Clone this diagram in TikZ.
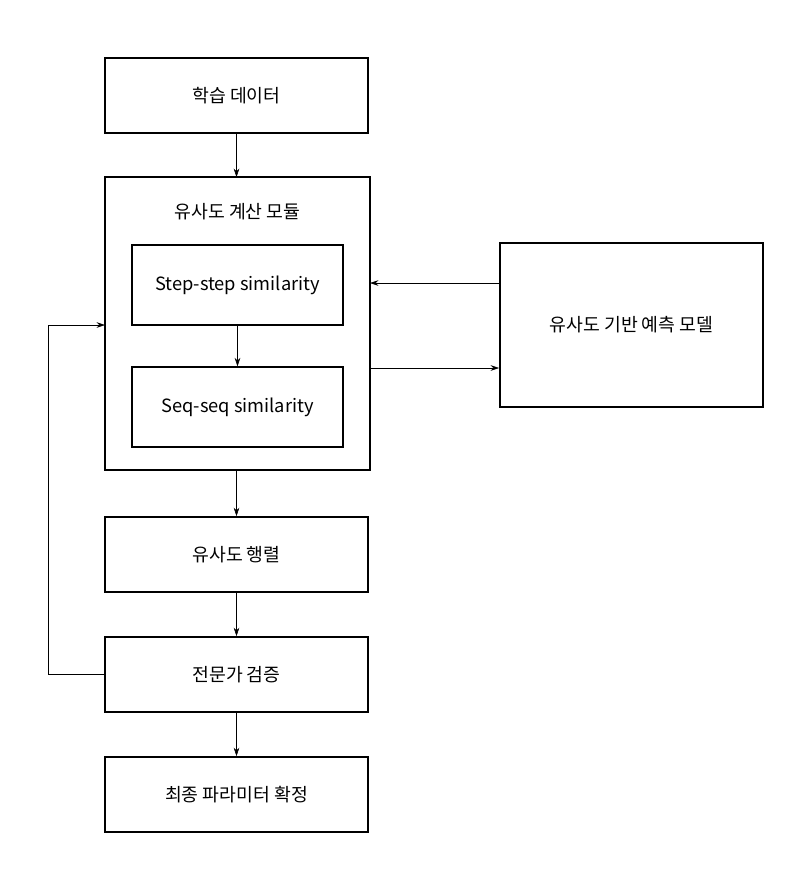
\documentclass[tikz,border=0pt]{standalone}
\usepackage{fontspec}
\setmainfont{Noto Sans CJK KR}
\usetikzlibrary{arrows.meta,positioning}
\tikzset{box/.style={draw,line width=1.2pt,minimum width=6.575cm,minimum height=1.875cm,font=\fontsize{13}{15}\selectfont},
  inbox/.style={draw,line width=1pt,minimum width=5.275cm,minimum height=2cm,font=\fontsize{13}{15}\selectfont},
  conn/.style={-{Stealth[length=6pt,width=4pt]},line width=0.4pt}}
\begin{document}
\begin{tikzpicture}[x=0.025cm,y=-0.025cm]
\useasboundingbox (0,0) rectangle (802,890);

\node[box] (data) at (236.5,95.5) {학습 데이터};
\draw[line width=1.2pt] (105,177) rectangle (370,470);
\coordinate (modtop) at (236.5,177);
\coordinate (modbot) at (236.5,470);
\node[font=\fontsize{13}{15}\selectfont] (modlabel) at (237.5,212) {유사도 계산 모듈};
\node[inbox] (step) at (237.5,285) {Step-step similarity};
\node[inbox] (seq) at (237.5,407) {Seq-seq similarity};
\node[box,minimum height=4.1cm] (pred) at (631.5,325) {유사도 기반 예측 모델};
\node[box] (mat) at (236.5,554.5) {유사도 행렬};
\node[box] (expert) at (236.5,674.5) {전문가 검증};
\node[box] (final) at (236.5,794.5) {최종 파라미터 확정};

\coordinate (inR) at (370,283);
\coordinate (outR) at (370,368);
\coordinate (inL) at (105,325);

\draw[conn] (data) -- (modtop);
\draw[conn] (step) -- (seq);
\draw[conn] (pred.west |- inR) -- (inR);
\draw[conn] (outR) -- (pred.west |- outR);
\draw[conn] (modbot) -- (mat);
\draw[conn] (mat) -- (expert);
\draw[conn] (expert) -- (final);
\draw[conn] (expert.west) -- (48,674.5) -- (48,325) -- (inL);
\end{tikzpicture}
\end{document}
